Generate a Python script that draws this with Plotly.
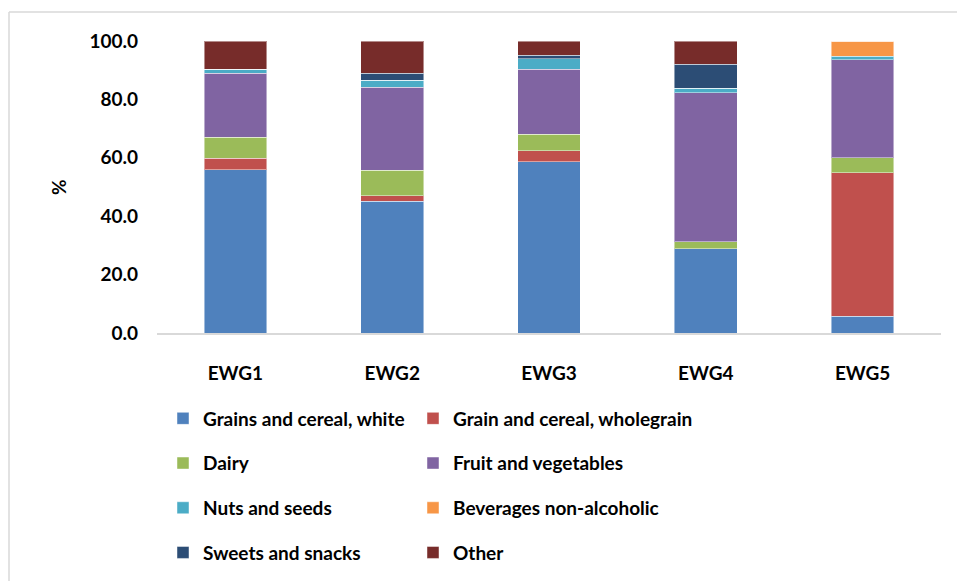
import plotly.graph_objects as go

groups = ["EWG1", "EWG2", "EWG3", "EWG4", "EWG5"]

grains_white = [55.9, 45.2, 58.6, 28.8, 5.8]
grain_wholegrain = [3.9, 1.8, 3.9, 0.0, 49.0]
dairy = [7.2, 8.8, 5.6, 2.5, 5.2]
fruit_veg = [21.9, 28.3, 22.2, 51.0, 33.6]
nuts_seeds = [1.4, 2.5, 3.7, 1.5, 1.1]
beverages = [0.0, 0.0, 0.0, 0.0, 5.3]
sweets_snacks = [0.0, 2.4, 1.2, 8.3, 0.0]
other = [9.7, 11.0, 4.8, 7.9, 0.0]

series = [
    ("Grains and cereal, white", grains_white, "#4F81BD", "legend"),
    ("Grain and cereal, wholegrain", grain_wholegrain, "#C0504D", "legend2"),
    ("Dairy", dairy, "#9BBB59", "legend"),
    ("Fruit and vegetables", fruit_veg, "#8064A2", "legend2"),
    ("Nuts and seeds", nuts_seeds, "#4BACC6", "legend"),
    ("Beverages non-alcoholic", beverages, "#F79646", "legend2"),
    ("Sweets and snacks", sweets_snacks, "#2C4D75", "legend"),
    ("Other", other, "#772C2A", "legend2"),
]

FONT = "Lato, 'Open Sans', sans-serif"

fig = go.Figure()
for name, vals, color, lg in series:
    fig.add_trace(go.Bar(
        x=groups, y=vals, name=name, legend=lg, legendgroup=name,
        marker=dict(color=color, line=dict(color="rgba(255,255,255,0.45)", width=1)),
    ))

W, H = 957, 581
L, R, T, B = 157, 16, 41, 248
ph = H - T - B

def py(px):
    return (H - B - px) / ph

def px_x(px):
    return (px - L) / (W - L - R)

legend_common = dict(
    orientation="v", yanchor="top", xanchor="left",
    xref="container", yref="container",
    font=dict(family=FONT, size=19, color="black", weight="bold"),
    tracegroupgap=17, bgcolor="rgba(0,0,0,0)", traceorder="grouped",
)

fig.update_layout(
    width=W, height=H,
    margin=dict(l=L, r=R, t=T, b=B, autoexpand=False),
    barmode="stack", bargap=0.6,
    plot_bgcolor="white", paper_bgcolor="white",
    font=dict(family=FONT, size=19, color="black", weight="bold"),
    legend=dict(x=163 / W, y=1 - 399.5 / H, **legend_common),
    legend2=dict(x=413 / W, y=1 - 399.5 / H, **legend_common),
    xaxis=dict(
        showline=True, linecolor="#D9D9D9", linewidth=1.5,
        showgrid=False, ticks="", ticklabelstandoff=22,
        tickfont=dict(family=FONT, size=19, color="black", weight="bold"),
    ),
    yaxis=dict(
        range=[0, 100], tickvals=[0, 20, 40, 60, 80, 100],
        tickformat=".1f", showgrid=False, showline=False, zeroline=False,
        ticks="", ticklabelstandoff=18,
        tickfont=dict(family=FONT, size=19, color="black", weight="bold"),
    ),
    annotations=[
        dict(text="%", xref="paper", yref="paper", x=px_x(58), y=py(187),
             xanchor="center", yanchor="middle", showarrow=False, textangle=-90,
             font=dict(family=FONT, size=19, color="black", weight="bold")),
    ],
    shapes=[
        dict(type="line", xref="paper", yref="paper",
             x0=px_x(9), x1=px_x(957), y0=py(12), y1=py(12),
             line=dict(color="#D9D9D9", width=1.5)),
        dict(type="line", xref="paper", yref="paper",
             x0=px_x(9), x1=px_x(9), y0=py(12), y1=py(581),
             line=dict(color="#D9D9D9", width=1.5)),
    ],
)

fig.write_html("out.html")
